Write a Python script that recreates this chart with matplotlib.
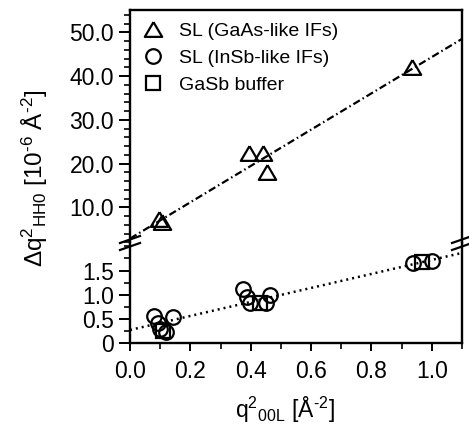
import matplotlib
matplotlib.use("Agg")
import matplotlib.pyplot as plt
import numpy as np
from matplotlib.ticker import MultipleLocator, FixedLocator, FormatStrFormatter
from matplotlib.lines import Line2D

plt.rcParams['font.family'] = ['Liberation Sans', 'DejaVu Sans']
plt.rcParams['mathtext.fontset'] = 'custom'
plt.rcParams['mathtext.rm'] = 'Liberation Sans'
plt.rcParams['mathtext.it'] = 'Liberation Sans'
plt.rcParams['mathtext.bf'] = 'Liberation Sans:bold'

# ---- data ----
gaas_x = [0.097, 0.106, 0.395, 0.440, 0.454, 0.935]
gaas_y = [7.3, 6.6, 22.5, 22.5, 18.0, 42.0]

insb_x = [0.080, 0.092, 0.142, 0.100, 0.118, 0.375, 0.386, 0.397, 0.452, 0.464, 0.938, 0.999]
insb_y = [0.55, 0.42, 0.53, 0.30, 0.22, 1.12, 0.95, 0.83, 0.83, 1.00, 1.65, 1.69]

gasb_x = [0.110, 0.430, 0.966]
gasb_y = [0.25, 0.83, 1.67]

fit_top = (2.85, 41.5)     # intercept, slope (dash-dot)
fit_bot = (0.27, 1.45)     # intercept, slope (dotted)

legend_labels = ['SL (GaAs-like IFs)', 'SL (InSb-like IFs)', 'GaSb buffer']
xticks = [0.0, 0.2, 0.4, 0.6, 0.8, 1.0]
top_yticks = [10, 20, 30, 40, 50]
bot_yticks = [0, 0.5, 1.0, 1.5]
bot_yticklabels = ['0', '0.5', '1.0', '1.5']

# ---- figure ----
W, H = 469, 428
fig = plt.figure(figsize=(W / 100, H / 100), dpi=100)
L, R = 130, 462
y_top, y_brk, y_bot = 10, 243, 343
ax_t = fig.add_axes([L / W, 1 - y_brk / H, (R - L) / W, (y_brk - y_top) / H])
ax_b = fig.add_axes([L / W, 1 - y_bot / H, (R - L) / W, (y_bot - y_brk) / H])

xlim = (0.0, 1.1)
for ax in (ax_t, ax_b):
    ax.set_xlim(*xlim)
    for s in ax.spines.values():
        s.set_linewidth(1.7)
ax_t.set_ylim(1.84, 55.1)
ax_b.set_ylim(0, 2.07)

ax_t.spines['bottom'].set_visible(False)
ax_b.spines['top'].set_visible(False)

# ticks
ax_t.tick_params(axis='x', which='both', bottom=False, top=False, labelbottom=False)
ax_t.yaxis.set_major_locator(FixedLocator(top_yticks))
ax_t.yaxis.set_minor_locator(MultipleLocator(2))
ax_t.yaxis.set_major_formatter(FormatStrFormatter('%.1f'))
ax_b.yaxis.set_major_locator(FixedLocator(bot_yticks))
ax_b.set_yticklabels(bot_yticklabels)
ax_b.yaxis.set_minor_locator(MultipleLocator(0.25))
ax_b.xaxis.set_major_locator(FixedLocator(xticks))
ax_b.xaxis.set_major_formatter(FormatStrFormatter('%.1f'))
ax_b.xaxis.set_minor_locator(MultipleLocator(0.1))

for ax in (ax_t, ax_b):
    ax.tick_params(axis='y', which='major', direction='out', length=8, width=1.4,
                   labelsize=16.5, pad=3.5, right=False)
    ax.tick_params(axis='y', which='minor', direction='out', length=4.5, width=1.2, right=False)
ax_b.tick_params(axis='x', which='major', direction='out', length=6, width=1.4,
                 labelsize=16.5, pad=6, top=False)
ax_b.tick_params(axis='x', which='minor', direction='out', length=4, width=1.2, top=False)

# fit lines
xx = np.array(xlim)
ax_t.plot(xx, fit_top[0] + fit_top[1] * xx, color='black', lw=1.6,
          linestyle=(0, (3.4, 1.4, 0.7, 1.4)), zorder=2)
ax_b.plot(xx, fit_bot[0] + fit_bot[1] * xx, color='black', lw=1.8,
          linestyle=(0, (0.8, 1.6)), zorder=2)

# markers
tri = [(0, 0.85), (-1, -0.85), (1, -0.85), (0, 0.85)]
mk = dict(color='black', linestyle='none', fillstyle='none', mew=1.6, zorder=3)
h1, = ax_t.plot(gaas_x, gaas_y, marker=tri, markersize=12.5, **mk)
h2, = ax_b.plot(insb_x, insb_y, marker='o', markersize=10.5, **mk)
h3, = ax_b.plot(gasb_x, gasb_y, marker='s', markersize=9.5, **mk)

leg = ax_t.legend([h1, h2, h3], legend_labels, loc='upper left',
                  bbox_to_anchor=(141 / W, 1 - 22 / H), bbox_transform=fig.transFigure,
                  frameon=False, fontsize=14, handlelength=1.2, handletextpad=0.75,
                  labelspacing=0.5, borderpad=0, borderaxespad=0)

# axis labels
fig.text(35 / W, 1 - 178 / H,
         r'$\Delta$q$^{2}{}_{\rm HH0}$ [10$^{\text{-}6}$ Å$^{\text{-}2}$]',
         rotation=90, ha='center', va='center', fontsize=17.5)
fig.text(285 / W, 1 - 410 / H, r'q$^{2}{}_{\rm 00L}$ [Å$^{\text{-}2}$]',
         ha='center', va='center', fontsize=16.5)

# break marks
for xc in (L, R):
    for dy in (-3.5, 3.5):
        yc = y_brk + dy
        fig.add_artist(Line2D([(xc - 10) / W, (xc + 10) / W],
                              [1 - (yc + 3.5) / H, 1 - (yc - 3.5) / H],
                              transform=fig.transFigure, color='black', lw=1.6))

fig.savefig('out.png', dpi=100)
